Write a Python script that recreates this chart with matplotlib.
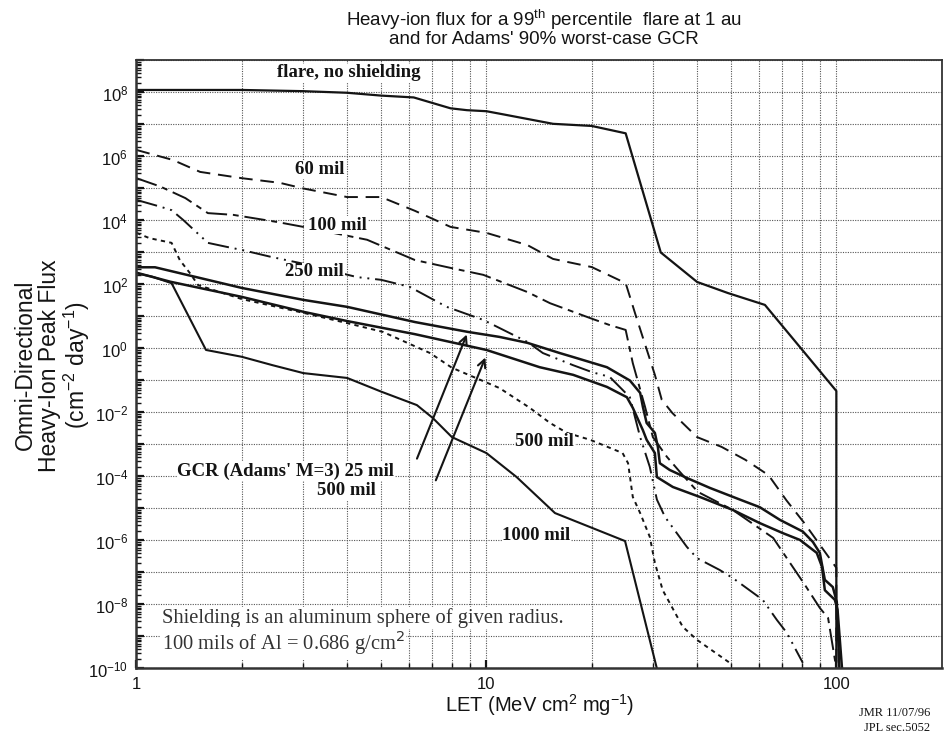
import matplotlib
matplotlib.use('Agg')
import matplotlib.pyplot as plt
import matplotlib.ticker as mticker
import numpy as np

plt.rcParams['font.family'] = ['Liberation Sans', 'DejaVu Sans']
serif = ['Liberation Serif', 'DejaVu Serif']

# LET (MeV cm^2/mg) and omni-directional peak flux (cm^-2 day^-1)
let_flare = [1, 2, 3, 4, 5, 6.2, 7.9, 8.8, 10, 11.1, 15.5, 20, 25, 31.5, 40, 49, 62.5, 100, 100]
flux_flare = [1.2e8, 1.2e8, 1.1e8, 9.8e7, 8e7, 7e7, 3.2e7, 2.8e7, 2.6e7, 2.1e7, 1.05e7, 9e6,
              5.3e6, 1.0e3, 120, 54, 23, 0.047, 1e-10]

let_60 = [1, 1.27, 1.52, 2, 2.57, 3, 4, 5, 6.25, 7.9, 10, 13.1, 15.5, 20, 25, 26.7, 30.3,
          31.7, 34, 40, 47, 55, 64, 72, 81, 91, 100, 100]
flux_60 = [1.6e6, 7.8e5, 3.3e5, 2.1e5, 1.5e5, 1.0e5, 5.4e4, 5.4e4, 2.0e4, 6.3e3, 4.1e3, 1.7e3,
           630, 350, 110, 11, 0.15, 0.025, 9.6e-3, 1.7e-3, 8.4e-4, 3.3e-4, 1.1e-4, 1.8e-5,
           3.5e-6, 5.9e-7, 1.4e-7, 1e-10]

let_100 = [1, 1.17, 1.38, 1.6, 1.89, 2.52, 3, 4.56, 6.25, 7.9, 9.8, 13.1, 15.2, 19.8, 22.5, 25,
           26.2, 28.4, 29.9, 32.8, 35.7, 40.2, 50.6, 66, 72.7, 81.3, 89.7, 94.7, 100]
flux_100 = [2.1e5, 1.15e5, 5e4, 1.7e4, 1.5e4, 9e3, 6.3e3, 2.5e3, 580, 330, 200, 58, 26, 8.9, 5.4,
            3.8, 0.35, 0.015, 1.7e-3, 4.1e-4, 1.4e-4, 3.3e-5, 9e-6, 1.2e-6, 2.5e-7, 4.1e-8,
            7.8e-9, 3.8e-9, 1e-10]

let_250 = [1, 1.17, 1.26, 1.36, 1.6, 1.81, 2.0, 2.41, 2.93, 4.27, 5.0, 6.04, 7.7, 9.8, 13.1,
           14.5, 17.7, 20.1, 22.5, 25.7, 27.5, 29.3, 30.7, 32.4, 37.4, 40, 46.4, 50.6, 61.6,
           67.6, 72.2, 80.2]
flux_250 = [4.4e4, 2.7e4, 2.1e4, 1.04e4, 2e3, 1.5e3, 1.2e3, 740, 470, 170, 140, 84, 20, 7.8, 1.6,
            0.72, 0.3, 0.18, 0.13, 0.03, 1.7e-3, 2e-4, 1.9e-5, 5.4e-6, 6.3e-7, 2.8e-7, 1.2e-7,
            6.7e-8, 1.4e-8, 3.3e-9, 1.3e-9, 1.5e-10]

let_500 = [1, 1.09, 1.26, 1.33, 1.42, 1.5, 1.59, 2, 3, 4, 5.06, 6.9, 7.97, 10.9, 13.3, 15.2, 17,
           19.8, 24.5, 25.4, 26.2, 27.5, 29.3, 30.3, 31.9, 36.4, 40, 49.6]
flux_500 = [4.1e3, 2.8e3, 2e3, 580, 230, 96, 78, 35, 13, 6.2, 3.3, 0.72, 0.25, 0.058, 0.014,
            4.7e-3, 2.3e-3, 1.4e-3, 5.4e-4, 2.6e-4, 2.3e-5, 7.2e-6, 1.3e-6, 2e-7, 2.8e-8, 2e-9,
            7.8e-10, 1.5e-10]

let_1000 = [1, 1.11, 1.26, 1.58, 2, 2.45, 3, 4, 5, 6.33, 7.03, 7.97, 10, 12.2, 15.7, 24.9, 30.7]
flux_1000 = [224, 175, 110, 0.9, 0.55, 0.3, 0.17, 0.12, 0.045, 0.017, 6.7e-3, 1.7e-3, 5.4e-4,
             9.6e-5, 7.2e-6, 9.6e-7, 1e-10]

let_gcr25 = [1, 1.13, 2, 3, 4, 6.25, 8.85, 10.9, 13.1, 16.2, 17.7, 22.1, 25.7, 27.5, 28, 28.7,
             30.3, 30.9, 31.3, 33.4, 37.4, 43.5, 53, 60.4, 69, 80.2, 85.7, 89.7, 92.7, 97.7,
             100.3, 102]
flux_gcr25 = [345, 345, 78, 33, 20, 6.7, 3.3, 2.3, 1.5, 0.72, 0.54, 0.26, 0.10, 0.041, 0.015,
              4.7e-3, 2.3e-3, 8.4e-4, 2.6e-4, 1.6e-4, 9e-5, 4.4e-5, 1.9e-5, 1.1e-5, 4.4e-6,
              1.9e-6, 9e-7, 4.1e-7, 5.9e-8, 3.5e-8, 1.2e-8, 1e-10]

let_gcr500 = [1, 1.25, 2, 3, 4, 6.25, 10, 14.2, 17.7, 22.1, 25.2, 26.2, 28, 28.7, 30.3, 30.7,
              34.1, 40.7, 50.6, 60.4, 70.3, 78.7, 87.9, 91, 92.7, 99, 100.8, 103.8]
flux_gcr500 = [234, 122, 41, 14, 7.2, 2.8, 0.9, 0.26, 0.15, 0.063, 0.03, 0.014, 2.8e-3, 1.4e-3,
               5.4e-4, 9.6e-5, 4.7e-5, 2.3e-5, 9e-6, 3.5e-6, 1.7e-6, 1.04e-6, 4.1e-7, 1.5e-7,
               2.8e-8, 1.4e-8, 6.8e-9, 1e-10]

fig = plt.figure(figsize=(9.45, 7.35), dpi=100)
ax = fig.add_axes([0.1444, 0.0905, 0.8521, 0.8272])
ax.set_xscale('log')
ax.set_yscale('log')
ax.set_xlim(1, 200)
ax.set_ylim(1e-10, 1e9)

ink = '#141414'
ax.plot(let_flare, flux_flare, color=ink, lw=1.6)
ax.plot(let_60, flux_60, color=ink, lw=1.4, dashes=(7, 4))
ax.plot(let_100, flux_100, color=ink, lw=1.4, dashes=(11, 3, 3, 3))
ax.plot(let_250, flux_250, color=ink, lw=1.4, dashes=(11, 3, 1, 3, 1, 3))
ax.plot(let_500, flux_500, color=ink, lw=1.4, dashes=(2.2, 2.2))
ax.plot(let_1000, flux_1000, color=ink, lw=1.5)
ax.plot(let_gcr25, flux_gcr25, color=ink, lw=1.8)
ax.plot(let_gcr500, flux_gcr500, color=ink, lw=1.8)

# ticks and grid
ax.xaxis.set_major_locator(mticker.FixedLocator([1, 10, 100]))
ax.xaxis.set_major_formatter(mticker.FixedFormatter(['1', '10', '100']))
minor_x = [2, 3, 4, 5, 6, 7, 8, 9, 20, 30, 40, 50, 60, 70, 80, 90]
ax.xaxis.set_minor_locator(mticker.FixedLocator(minor_x))
ax.xaxis.set_minor_formatter(mticker.NullFormatter())
ax.yaxis.set_major_locator(mticker.LogLocator(base=10, numticks=40))
ax.yaxis.set_minor_locator(mticker.LogLocator(base=10, subs=np.arange(2, 10), numticks=40))
ax.yaxis.set_minor_formatter(mticker.NullFormatter())
ax.yaxis.set_major_formatter(mticker.FuncFormatter(
    lambda v, p: r'$\mathregular{10^{%d}}$' % round(np.log10(v)) if round(np.log10(v)) % 2 == 0 else ''))

ax.tick_params(which='both', direction='in', colors=ink, top=False, right=False)
ax.tick_params(which='major', length=6, width=1.6)
ax.tick_params(which='minor', length=3.5, width=1.0)
ax.tick_params(axis='y', which='major', labelsize=12, pad=6)
ax.tick_params(axis='x', which='major', labelsize=12, pad=6)

grid_kw = dict(color='#555555', lw=0.8, linestyle=(0, (1, 1.2)))
ax.grid(True, which='major', axis='y', **grid_kw)
ax.grid(True, which='both', axis='x', **grid_kw)

for s in ax.spines.values():
    s.set_color('#333333')
    s.set_linewidth(1.3)
ax.spines['left'].set_linewidth(1.8)
ax.spines['bottom'].set_linewidth(1.8)

# curve labels
lab_kw = dict(family=serif, fontweight='bold', fontsize=13.5, va='center', ha='left', color=ink,
              bbox=dict(facecolor='white', edgecolor='none', pad=0.5), zorder=4)
ax.text(2.52, 4.1e8, 'flare, no shielding', **lab_kw)
ax.text(2.84, 3.8e5, '60 mil', **lab_kw)
ax.text(3.09, 7.2e3, '100 mil', **lab_kw)
ax.text(2.66, 250, '250 mil', **lab_kw)
ax.text(1.31, 1.4e-4, "GCR (Adams' M=3) 25 mil", **lab_kw)
ax.text(3.27, 3.6e-5, '500 mil', **lab_kw)
ax.text(12.1, 1.2e-3, '500 mil', **lab_kw)
ax.text(11.1, 1.4e-6, '1000 mil', **lab_kw)

note_kw = dict(family=serif, fontsize=14.8, va='center', ha='left', color='#333333',
               bbox=dict(facecolor='white', edgecolor='none', pad=1), zorder=4)
ax.text(1.18, 3.8e-9, 'Shielding is an aluminum sphere of given radius.', **note_kw)
ax.text(1.18, 6.3e-10, r'100 mils of Al = 0.686 g/cm$^{2}$', **note_kw)

arrow_kw = dict(arrowstyle='->', lw=1.5, color=ink, mutation_scale=14)
ax.annotate('', xy=(8.85, 3.3), xytext=(6.29, 3e-4), arrowprops=arrow_kw, zorder=5)
ax.annotate('', xy=(10, 0.63), xytext=(7.12, 6.3e-5), arrowprops=arrow_kw, zorder=5)

fig.text(0.576, 0.974, "Heavy-ion flux for a 99$^{\\mathregular{th}}$ percentile  flare at 1 au",
         ha='center', va='center', fontsize=13.5, color=ink)
fig.text(0.576, 0.946, "and for Adams' 90% worst-case GCR",
         ha='center', va='center', fontsize=13.5, color=ink)

fig.text(92 / 945, 0.503, "Omni-Directional\nHeavy-Ion Peak Flux\n"
         "(cm$^{\\mathregular{-2}}$ day$^{\\mathregular{-1}}$)", rotation=90, ha='right',
         va='center', multialignment='center', linespacing=1.05, fontsize=16.5, color=ink)

fig.text(0.571, 0.041, "LET (MeV cm$^{\\mathregular{2}}$ mg$^{\\mathregular{-1}}$)", ha='center',
         va='center', fontsize=14.5, color=ink)
fig.text(0.984, 0.030, 'JMR 11/07/96', ha='right', va='center', fontsize=9, family=serif,
         color=ink)
fig.text(0.984, 0.009, 'JPL sec.5052', ha='right', va='center', fontsize=9, family=serif,
         color=ink)

fig.savefig('out.png', dpi=100, facecolor='white')
